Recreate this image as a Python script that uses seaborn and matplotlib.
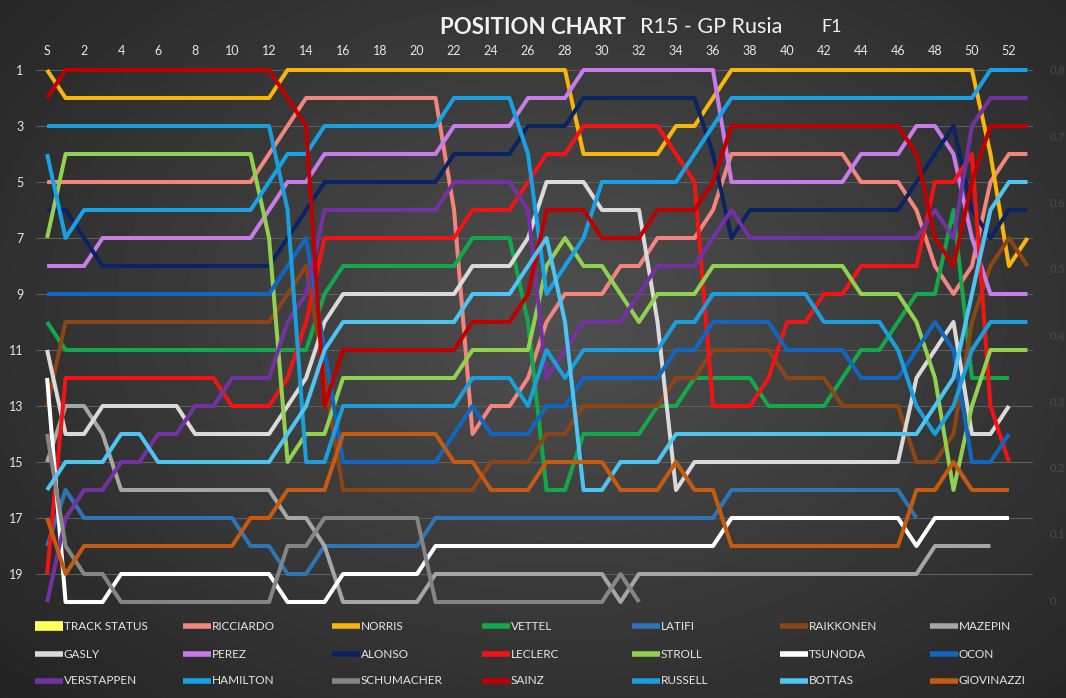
import numpy as np
import matplotlib
matplotlib.use("Agg")
import matplotlib.pyplot as plt
import seaborn as sns

# laps: 0 = start (S) ... 53
laps = list(range(54))
lap_ticks = list(range(0, 53, 2))
lap_labels = ["S"] + [str(v) for v in range(2, 53, 2)]
pos_ticks = list(range(1, 20, 2))
status_ticks = [0, 0.1, 0.2, 0.3, 0.4, 0.5, 0.6, 0.7, 0.8]

RICCIARDO = [5, 5, 5, 5, 5, 5, 5, 5, 5, 5,
             5, 5, 4, 3, 2, 2, 2, 2, 2, 2,
             2, 2, 6, 14, 13, 13, 12, 10, 9, 9,
             9, 8, 8, 7, 7, 7, 6, 4, 4, 4,
             4, 4, 4, 4, 5, 5, 5, 6, 8, 9,
             8, 5, 4, 4]
NORRIS = [1, 2, 2, 2, 2, 2, 2, 2, 2, 2,
          2, 2, 2, 1, 1, 1, 1, 1, 1, 1,
          1, 1, 1, 1, 1, 1, 1, 1, 1, 4,
          4, 4, 4, 4, 3, 3, 2, 1, 1, 1,
          1, 1, 1, 1, 1, 1, 1, 1, 1, 1,
          1, 4, 8, 7]
VETTEL = [10, 11, 11, 11, 11, 11, 11, 11, 11, 11,
          11, 11, 11, 11, 11, 9, 8, 8, 8, 8,
          8, 8, 8, 7, 7, 7, 10, 16, 16, 14,
          14, 14, 14, 13, 13, 12, 12, 12, 12, 13,
          13, 13, 13, 12, 11, 11, 10, 9, 9, 6,
          12, 12, 12]
LATIFI = [18, 16, 17, 17, 17, 17, 17, 17, 17, 17,
          17, 18, 18, 19, 19, 18, 18, 18, 18, 18,
          18, 17, 17, 17, 17, 17, 17, 17, 17, 17,
          17, 17, 17, 17, 17, 17, 17, 16, 16, 16,
          16, 16, 16, 16, 16, 16, 16, 17]
RAIKKONEN = [13, 10, 10, 10, 10, 10, 10, 10, 10, 10,
             10, 10, 10, 9, 8, 12, 16, 16, 16, 16,
             16, 16, 16, 16, 15, 15, 15, 14, 14, 13,
             13, 13, 13, 13, 12, 12, 11, 11, 11, 11,
             12, 12, 12, 13, 13, 13, 13, 15, 15, 14,
             10, 8, 7, 8]
MAZEPIN = [15, 13, 13, 14, 16, 16, 16, 16, 16, 16,
           16, 16, 16, 17, 17, 18, 20, 20, 20, 20,
           20, 19, 19, 19, 19, 19, 19, 19, 19, 19,
           19, 20, 19, 19, 19, 19, 19, 19, 19, 19,
           19, 19, 19, 19, 19, 19, 19, 19, 18, 18,
           18, 18]
GASLY = [11, 14, 14, 13, 13, 13, 13, 13, 14, 14,
         14, 14, 14, 13, 12, 10, 9, 9, 9, 9,
         9, 9, 9, 8, 8, 8, 7, 5, 5, 5,
         6, 6, 6, 10, 16, 15, 15, 15, 15, 15,
         15, 15, 15, 15, 15, 15, 15, 12, 11, 10,
         14, 14, 13]
PEREZ = [8, 8, 8, 7, 7, 7, 7, 7, 7, 7,
         7, 7, 6, 5, 5, 4, 4, 4, 4, 4,
         4, 4, 3, 3, 3, 3, 2, 2, 2, 1,
         1, 1, 1, 1, 1, 1, 1, 5, 5, 5,
         5, 5, 5, 5, 4, 4, 4, 3, 3, 4,
         7, 9, 9, 9]
ALONSO = [6, 6, 7, 8, 8, 8, 8, 8, 8, 8,
          8, 8, 8, 7, 6, 5, 5, 5, 5, 5,
          5, 5, 4, 4, 4, 4, 3, 3, 3, 2,
          2, 2, 2, 2, 2, 2, 4, 7, 6, 6,
          6, 6, 6, 6, 6, 6, 6, 5, 4, 3,
          6, 7, 6, 6]
LECLERC = [19, 12, 12, 12, 12, 12, 12, 12, 12, 12,
           13, 13, 13, 12, 10, 7, 7, 7, 7, 7,
           7, 7, 7, 6, 6, 6, 5, 4, 4, 3,
           3, 3, 3, 3, 4, 5, 13, 13, 13, 12,
           10, 10, 9, 9, 8, 8, 8, 8, 5, 5,
           4, 13, 15]
STROLL = [7, 4, 4, 4, 4, 4, 4, 4, 4, 4,
          4, 4, 7, 15, 14, 14, 12, 12, 12, 12,
          12, 12, 12, 11, 11, 11, 11, 8, 7, 8,
          8, 9, 10, 9, 9, 9, 8, 8, 8, 8,
          8, 8, 8, 8, 9, 9, 9, 10, 12, 16,
          13, 11, 11, 11]
TSUNODA = [12, 20, 20, 20, 19, 19, 19, 19, 19, 19,
           19, 19, 19, 20, 20, 20, 19, 19, 19, 19,
           19, 18, 18, 18, 18, 18, 18, 18, 18, 18,
           18, 18, 18, 18, 18, 18, 18, 17, 17, 17,
           17, 17, 17, 17, 17, 17, 17, 18, 17, 17,
           17, 17, 17]
OCON = [9, 9, 9, 9, 9, 9, 9, 9, 9, 9,
        9, 9, 9, 8, 7, 11, 15, 15, 15, 15,
        15, 15, 14, 13, 14, 14, 14, 13, 13, 12,
        12, 12, 12, 12, 11, 11, 10, 10, 10, 10,
        11, 11, 11, 11, 12, 12, 12, 11, 10, 11,
        15, 15, 14]
VERSTAPPEN = [20, 17, 16, 16, 15, 15, 14, 14, 13, 13,
              12, 12, 12, 10, 9, 6, 6, 6, 6, 6,
              6, 6, 5, 5, 5, 5, 6, 12, 11, 10,
              10, 10, 9, 8, 8, 8, 7, 6, 7, 7,
              7, 7, 7, 7, 7, 7, 7, 7, 6, 7,
              3, 2, 2, 2]
HAMILTON = [4, 7, 6, 6, 6, 6, 6, 6, 6, 6,
            6, 6, 5, 4, 4, 3, 3, 3, 3, 3,
            3, 3, 2, 2, 2, 2, 4, 9, 8, 7,
            5, 5, 5, 5, 5, 4, 3, 2, 2, 2,
            2, 2, 2, 2, 2, 2, 2, 2, 2, 2,
            2, 1, 1, 1]
SCHUMACHER = [14, 18, 19, 19, 20, 20, 20, 20, 20, 20,
              20, 20, 20, 18, 18, 17, 17, 17, 17, 17,
              17, 20, 20, 20, 20, 20, 20, 20, 20, 20,
              20, 19, 20]
SAINZ = [2, 1, 1, 1, 1, 1, 1, 1, 1, 1,
         1, 1, 1, 2, 3, 13, 11, 11, 11, 11,
         11, 11, 11, 10, 10, 10, 9, 6, 6, 6,
         7, 7, 7, 6, 6, 6, 5, 3, 3, 3,
         3, 3, 3, 3, 3, 3, 3, 4, 7, 8,
         5, 3, 3, 3]
RUSSELL = [3, 3, 3, 3, 3, 3, 3, 3, 3, 3,
           3, 3, 3, 6, 15, 15, 13, 13, 13, 13,
           13, 13, 13, 12, 12, 12, 13, 11, 12, 11,
           11, 11, 11, 11, 10, 10, 9, 9, 9, 9,
           9, 9, 10, 10, 10, 10, 11, 13, 14, 13,
           11, 10, 10, 10]
BOTTAS = [16, 15, 15, 15, 14, 14, 15, 15, 15, 15,
          15, 15, 15, 14, 13, 11, 10, 10, 10, 10,
          10, 10, 10, 9, 9, 9, 8, 7, 10, 16,
          16, 15, 15, 15, 14, 14, 14, 14, 14, 14,
          14, 14, 14, 14, 14, 14, 14, 14, 13, 12,
          9, 6, 5, 5]
GIOVINAZZI = [17, 19, 18, 18, 18, 18, 18, 18, 18, 18,
              18, 17, 17, 16, 16, 16, 14, 14, 14, 14,
              14, 14, 15, 15, 16, 16, 16, 15, 15, 15,
              15, 16, 16, 16, 15, 16, 16, 18, 18, 18,
              18, 18, 18, 18, 18, 18, 18, 16, 16, 15,
              16, 16, 16]

# series order as in the legend (row by row)
series = [
    ("TRACK STATUS", None, "#ffff5e"),
    ("RICCIARDO", RICCIARDO, "#f4857e"),
    ("NORRIS", NORRIS, "#f6b60a"),
    ("VETTEL", VETTEL, "#12a84b"),
    ("LATIFI", LATIFI, "#2e75b6"),
    ("RAIKKONEN", RAIKKONEN, "#8c4515"),
    ("MAZEPIN", MAZEPIN, "#a6a6a6"),
    ("GASLY", GASLY, "#dadada"),
    ("PEREZ", PEREZ, "#c77ce9"),
    ("ALONSO", ALONSO, "#0a2362"),
    ("LECLERC", LECLERC, "#f21414"),
    ("STROLL", STROLL, "#92d050"),
    ("TSUNODA", TSUNODA, "#ffffff"),
    ("OCON", OCON, "#1167bf"),
    ("VERSTAPPEN", VERSTAPPEN, "#7332a2"),
    ("HAMILTON", HAMILTON, "#17a2e6"),
    ("SCHUMACHER", SCHUMACHER, "#858585"),
    ("SAINZ", SAINZ, "#c00000"),
    ("RUSSELL", RUSSELL, "#1b9fdc"),
    ("BOTTAS", BOTTAS, "#4ec4f2"),
    ("GIOVINAZZI", GIOVINAZZI, "#c55a11"),
]

sns.set_theme(style="dark")
plt.rcParams["font.family"] = ["Lato", "DejaVu Sans"]

W, H = 1066, 698
fig = plt.figure(figsize=(W / 100, H / 100), dpi=100)

# dark radial background
bg = fig.add_axes([0, 0, 1, 1], zorder=-10)
yy, xx = np.mgrid[0:H, 0:W]
r = np.sqrt(((xx - 560) / 720) ** 2 + ((yy - 320) / 520) ** 2)
shade = np.clip(0.31 - 0.16 * r, 0, 1)
bg.imshow(shade, cmap="gray", vmin=0, vmax=1, aspect="auto", interpolation="bilinear")
bg.axis("off")

ax = fig.add_axes([36 / W, 1 - 610.4 / H, (1033 - 36) / W, (610.4 - 61.6) / H])
ax.set_facecolor("none")

for name, pos, color in series:
    if pos is None:
        continue
    sns.lineplot(x=laps[:len(pos)], y=pos, color=color, linewidth=2.9,
                 ax=ax, legend=False, sort=False,
                 solid_joinstyle="round", solid_capstyle="butt")

ax.set_xlim(-0.6, 53.3)
ax.set_ylim(20.3, 0.7)
ax.xaxis.tick_top()
ax.set_xticks(lap_ticks)
ax.set_xticklabels(lap_labels)
ax.set_yticks(pos_ticks)
ax.tick_params(axis="x", length=0, pad=3, labelsize=9, colors="#e6e6e6")
ax.tick_params(axis="y", length=0, pad=9, labelsize=9, colors="#e6e6e6")
ax.grid(False)
for p in pos_ticks:
    ax.axhline(p, color="#5e5e5e", lw=0.8, zorder=0)
ax.set_xlabel("")
ax.set_ylabel("")
for s in ax.spines.values():
    s.set_visible(False)

# secondary axis for the track status scale
ax2 = ax.twinx()
ax2.set_ylim(-0.0156, 0.8126)
ax2.set_yticks(status_ticks)
ax2.set_yticklabels(["0"] + [f"{v:.1f}" for v in status_ticks[1:]])
ax2.tick_params(axis="y", length=0, pad=12, labelsize=8, colors="#4a4a4a")
ax2.grid(False)
for s in ax2.spines.values():
    s.set_visible(False)

# title
fig.text(533 / W, 1 - 27 / H, "POSITION CHART", ha="center", va="center",
         fontsize=16, fontweight="bold", color="#f2f2f2")
fig.text(711 / W, 1 - 27 / H, "R15 - GP Rusia", ha="center", va="center",
         fontsize=15.5, color="#f2f2f2")
fig.text(832 / W, 1 - 27 / H, "F1", ha="center", va="center",
         fontsize=13, color="#f2f2f2")

# legend: 3 rows x 7 columns
col_x = [35, 183, 332, 482, 632, 780, 930]
row_y = [626, 654, 681]
for i, (name, pos, color) in enumerate(series):
    row, col = divmod(i, 7)
    x0 = col_x[col]
    y0 = 1 - row_y[row] / H
    lw = 7 if pos is None else 4
    fig.add_artist(plt.Line2D([x0 / W, (x0 + 28) / W], [y0, y0], color=color,
                              lw=lw, solid_capstyle="butt"))
    fig.text((x0 + 29) / W, y0, name, ha="left", va="center",
             fontsize=8.5, color="#e6e6e6")

fig.savefig("out.png", dpi=100)
